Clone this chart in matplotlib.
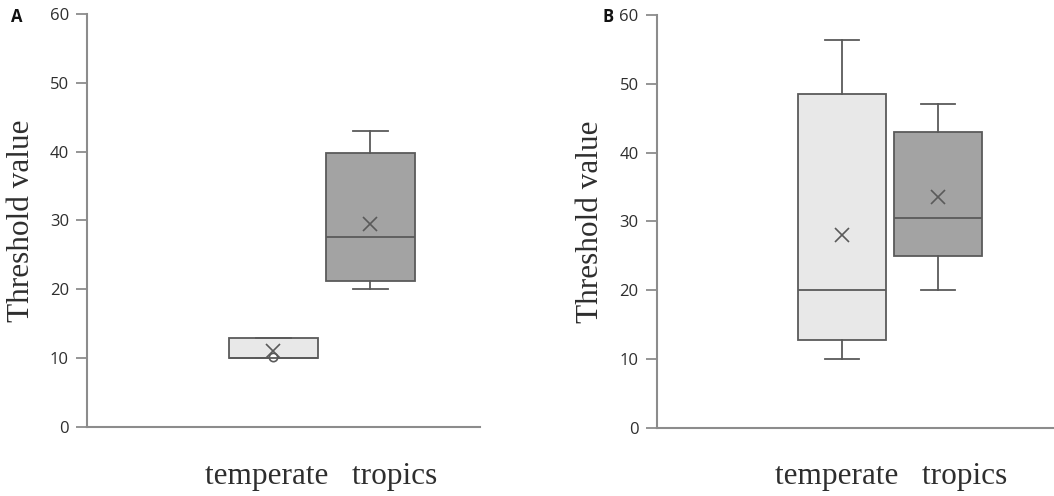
import matplotlib.pyplot as plt

# ── Data ───────────────────────────────────────────────────────────────
groups = ["temperate", "tropics"]

# Panel A
a_min = [10.0, 20.0]
a_q1 = [10.0, 21.2]
a_med = [10.0, 27.6]
a_q3 = [13.0, 39.8]
a_max = [10.0, 43.0]
a_mean = [11.0, 29.5]
a_fliers = [[10.2], []]

# Panel B
b_min = [10.0, 20.0]
b_q1 = [12.8, 25.0]
b_med = [20.0, 30.5]
b_q3 = [48.5, 43.0]
b_max = [56.3, 47.0]
b_mean = [28.0, 33.6]
b_fliers = [[], []]

yticks = [0, 10, 20, 30, 40, 50, 60]
fills = ["#e8e8e8", "#a3a3a3"]
edge = "#5a5a5a"
axis_col = "#8c8c8c"


def make_stats(mn, q1, med, q3, mx, mean, fliers):
    stats = []
    for i in range(len(groups)):
        stats.append(dict(whislo=min(mn[i], q1[i]), q1=q1[i], med=med[i], q3=q3[i],
                          whishi=max(mx[i], q3[i]), mean=mean[i], fliers=fliers[i],
                          label=groups[i]))
    return stats


fig = plt.figure(figsize=(10.54, 4.96), dpi=100)
fig.patch.set_facecolor("white")

panels = [
    ("A", [0.0825, 0.139, 0.373, 0.833], (-0.92, 3.13),
     make_stats(a_min, a_q1, a_med, a_q3, a_max, a_mean, a_fliers), 0.010, 0.305),
    ("B", [0.623, 0.137, 0.377, 0.833], (-0.93, 3.21),
     make_stats(b_min, b_q1, b_med, b_q3, b_max, b_mean, b_fliers), 0.572, 0.845),
]

for letter, rect, xlim, stats, lx, cx in panels:
    ax = fig.add_axes(rect)
    bp = ax.bxp(stats, positions=[1, 2], widths=0.91, patch_artist=True,
                showmeans=True, showcaps=True,
                boxprops=dict(edgecolor=edge, linewidth=1.3),
                medianprops=dict(color=edge, linewidth=1.3),
                whiskerprops=dict(color=edge, linewidth=1.3),
                capprops=dict(color=edge, linewidth=1.3),
                meanprops=dict(marker="x", markeredgecolor=edge, markersize=10,
                               markeredgewidth=1.2),
                flierprops=dict(marker="o", markerfacecolor="white",
                                markeredgecolor=edge, markersize=6,
                                markeredgewidth=1.2))
    for patch, c in zip(bp["boxes"], fills):
        patch.set_facecolor(c)
    # shorter whisker caps, as in the original
    for cap in bp["caps"]:
        x0, x1 = cap.get_xdata()
        mid = (x0 + x1) / 2
        cap.set_xdata([mid - 0.18, mid + 0.18])

    ax.set_xlim(*xlim)
    ax.set_ylim(0, 60)
    ax.set_yticks(yticks)
    ax.set_yticklabels([str(t) for t in yticks], fontsize=12,
                       fontfamily="Open Sans", color="#2e2e2e")
    ax.set_xticks([])
    ax.tick_params(axis="y", length=8, width=1.3, color=axis_col, pad=5)
    for s in ["top", "right"]:
        ax.spines[s].set_visible(False)
    for s in ["left", "bottom"]:
        ax.spines[s].set_color(axis_col)
        ax.spines[s].set_linewidth(1.5)
    ax.set_ylabel("Threshold value", fontsize=22.5, fontfamily="Liberation Serif",
                  color="#2e2e2e", labelpad=10)

    fig.text(lx, 0.965, letter, fontsize=12, fontweight="bold",
             fontfamily="Open Sans", color="#111111", va="center")
    fig.text(cx, 0.04, "temperate   tropics", fontsize=22.5,
             fontfamily="Liberation Serif", color="#2e2e2e",
             ha="center", va="center")

fig.savefig("out.png", dpi=100, facecolor="white")
